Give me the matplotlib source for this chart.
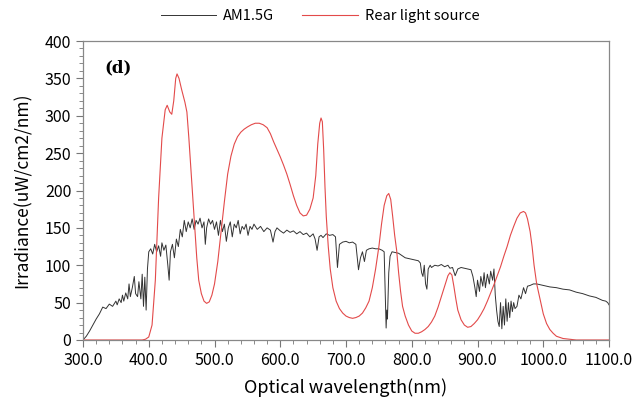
import matplotlib
matplotlib.use("Agg")
import matplotlib.pyplot as plt
from matplotlib.ticker import MultipleLocator, FormatStrFormatter

plt.rcParams["font.family"] = ["Noto Sans CJK KR", "DejaVu Sans"]

# AM1.5G spectrum
am_wl = [300, 305, 310, 315, 320, 325, 330, 335, 340, 345, 350, 352, 355, 358, 360, 362,
         365, 368, 370, 372, 375, 378, 380, 383, 385, 388, 390, 392, 394, 396, 398, 400,
         403, 406, 409, 412, 415, 418, 420, 423, 426, 429, 431, 433, 436, 439, 442, 445,
         448, 451, 454, 457, 460, 463, 466, 469, 472, 475, 478, 481, 484, 486, 488, 491,
         494, 497, 500, 503, 506, 509, 512, 515, 518, 521, 524, 527, 530, 533, 536, 539,
         542, 545, 548, 551, 554, 557, 560, 565, 570, 575, 580, 585, 589, 592, 595, 600,
         605, 610, 615, 620, 625, 630, 635, 640, 645, 650, 653, 656, 659, 662, 665, 670,
         675, 680, 684, 687, 690, 695, 700, 705, 710, 715, 719, 722, 725, 728, 731, 735,
         740, 745, 750, 755, 758, 761, 762, 763, 765, 767, 770, 775, 780, 785, 790, 795,
         800, 805, 810, 813, 815, 817, 819, 821, 823, 825, 828, 830, 835, 840, 845, 850,
         855, 858, 862, 866, 870, 875, 880, 885, 890, 893, 896, 898, 900, 903, 905, 908,
         910, 912, 915, 918, 920, 923, 925, 927, 929, 931, 933, 935, 937, 939, 941, 943,
         945, 947, 949, 951, 953, 955, 957, 960, 963, 966, 970, 973, 976, 980, 985, 990,
         995, 1000, 1010, 1020, 1030, 1040, 1050, 1060, 1070, 1080, 1085, 1090, 1095, 1098, 1100]
am_val = [0, 5, 12, 20, 28, 35, 44, 42, 48, 45, 52, 47, 55, 50, 60, 52,
          63, 55, 75, 58, 70, 85, 62, 58, 78, 55, 88, 45, 84, 40, 95, 118,
          122, 115, 128, 118, 126, 112, 130, 120, 127, 100, 80, 118, 128, 110, 135, 125,
          148, 138, 160, 145, 158, 150, 162, 148, 160, 155, 163, 150, 158, 128, 150, 162,
          155, 160, 148, 158, 140, 160, 145, 155, 132, 150, 158, 138, 155, 150, 160, 142,
          152, 148, 155, 140, 152, 148, 155, 148, 152, 145, 150, 147, 131, 145, 150, 146,
          143, 147, 144, 146, 142, 145, 141, 143, 138, 142, 135, 120, 138, 140, 137, 142,
          140, 141, 138, 97, 128, 131, 132, 130, 131, 128, 94, 110, 118, 105, 120, 122,
          123, 122, 122, 120, 118, 16, 40, 28, 90, 112, 118, 117, 116, 113, 110, 109,
          108, 107, 106, 103, 90, 85, 100, 75, 68, 95, 100, 97, 100, 99, 101, 98,
          100, 96, 97, 86, 95, 97, 96, 95, 94, 85, 70, 58, 80, 65, 85, 72,
          90, 70, 88, 75, 92, 80, 95, 60, 40, 25, 18, 50, 15, 45, 20, 55,
          25, 50, 30, 52, 38, 50, 42, 45, 60, 55, 70, 62, 72, 73, 75, 75,
          74, 73, 71, 70, 68, 67, 64, 62, 59, 57, 55, 53, 52, 50, 47]

# rear light source
rear_wl = [300, 390, 395, 400, 405, 410, 415, 420, 425, 428, 432, 435, 438, 441, 443, 446,
           450, 455, 458, 461, 464, 467, 470, 473, 476, 480, 484, 488, 492, 496, 500, 505,
           510, 515, 520, 525, 530, 535, 540, 545, 550, 556, 562, 568, 574, 580, 585, 590,
           595, 600, 605, 610, 615, 620, 625, 630, 635, 640, 645, 650, 654, 657, 660, 662,
           664, 666, 668, 670, 673, 676, 680, 685, 690, 695, 700, 705, 710, 715, 720, 725,
           730, 735, 740, 745, 750, 754, 758, 762, 765, 768, 771, 774, 777, 780, 783, 786,
           790, 795, 800, 805, 810, 815, 820, 825, 830, 835, 840, 845, 850, 855, 858, 861,
           864, 867, 870, 875, 880, 885, 890, 895, 900, 905, 910, 915, 920, 925, 930, 935,
           940, 945, 950, 955, 960, 965, 970, 973, 976, 980, 983, 986, 990, 995, 1000, 1005,
           1010, 1015, 1020, 1030, 1040, 1050, 1100]
rear_val = [0, 0, 1, 4, 20, 80, 190, 270, 308, 314, 305, 302, 320, 350, 356, 350,
            335, 318, 305, 270, 230, 190, 150, 110, 80, 62, 52, 49, 51, 60, 75, 105,
            145, 185, 222, 246, 262, 272, 278, 282, 285, 288, 290, 290, 288, 284, 276, 265,
            255, 245, 234, 222, 208, 193, 180, 170, 166, 167, 175, 190, 220, 262, 290, 297,
            292, 255, 205, 165, 125, 95, 70, 52, 42, 36, 32, 30, 29, 30, 32, 36,
            43, 52, 70, 95, 125, 155, 180, 193, 196, 188, 165, 140, 120, 90, 65, 45,
            32, 20, 12, 9, 9, 11, 14, 18, 24, 32, 44, 58, 72, 86, 90, 87,
            72, 55, 40, 27, 20, 17, 18, 22, 27, 34, 42, 52, 63, 74, 86, 98,
            112, 125, 140, 152, 163, 170, 172, 170, 162, 145, 125, 100, 75, 55, 35, 22,
            14, 9, 5, 2, 1, 0, 0]

x_ticks = [300, 400, 500, 600, 700, 800, 900, 1000, 1100]

fig = plt.figure(figsize=(6.4, 3.99), dpi=100)
ax = fig.add_axes([0.1297, 0.1479, 0.8219, 0.7493])

ax.plot(am_wl, am_val, color="#333333", lw=0.7, label="AM1.5G")
ax.plot(rear_wl, rear_val, color="#e34a4a", lw=0.8, label="Rear light source")

ax.set_xlim(300, 1100)
ax.set_ylim(0, 400)
ax.set_xticks(x_ticks)
ax.xaxis.set_major_formatter(FormatStrFormatter("%.1f"))
ax.xaxis.set_minor_locator(MultipleLocator(20))
ax.yaxis.set_major_locator(MultipleLocator(50))
ax.yaxis.set_minor_locator(MultipleLocator(10))
ax.tick_params(which="major", direction="out", length=5, color="#777777",
               labelsize=11.5, labelcolor="black", top=False, right=False)
ax.tick_params(which="minor", direction="out", length=3, color="#777777",
               top=False, right=False)
for sp in ax.spines.values():
    sp.set_color("#888888")
    sp.set_linewidth(0.9)

ax.set_xlabel("Optical wavelength(nm)", fontsize=13, labelpad=7)
ax.set_ylabel("Irradiance(uW/cm2/nm)", fontsize=12.5, labelpad=9)

ax.text(0.04, 0.94, "(d)", transform=ax.transAxes, fontsize=12,
        fontweight="bold", family="DejaVu Serif", va="top", ha="left")

fig.legend(loc="upper center", bbox_to_anchor=(0.5, 1.01), ncol=2, frameon=False,
           fontsize=10.5, handlelength=3.8, columnspacing=1.9, handletextpad=0.5)

fig.savefig("out.png", dpi=100)
